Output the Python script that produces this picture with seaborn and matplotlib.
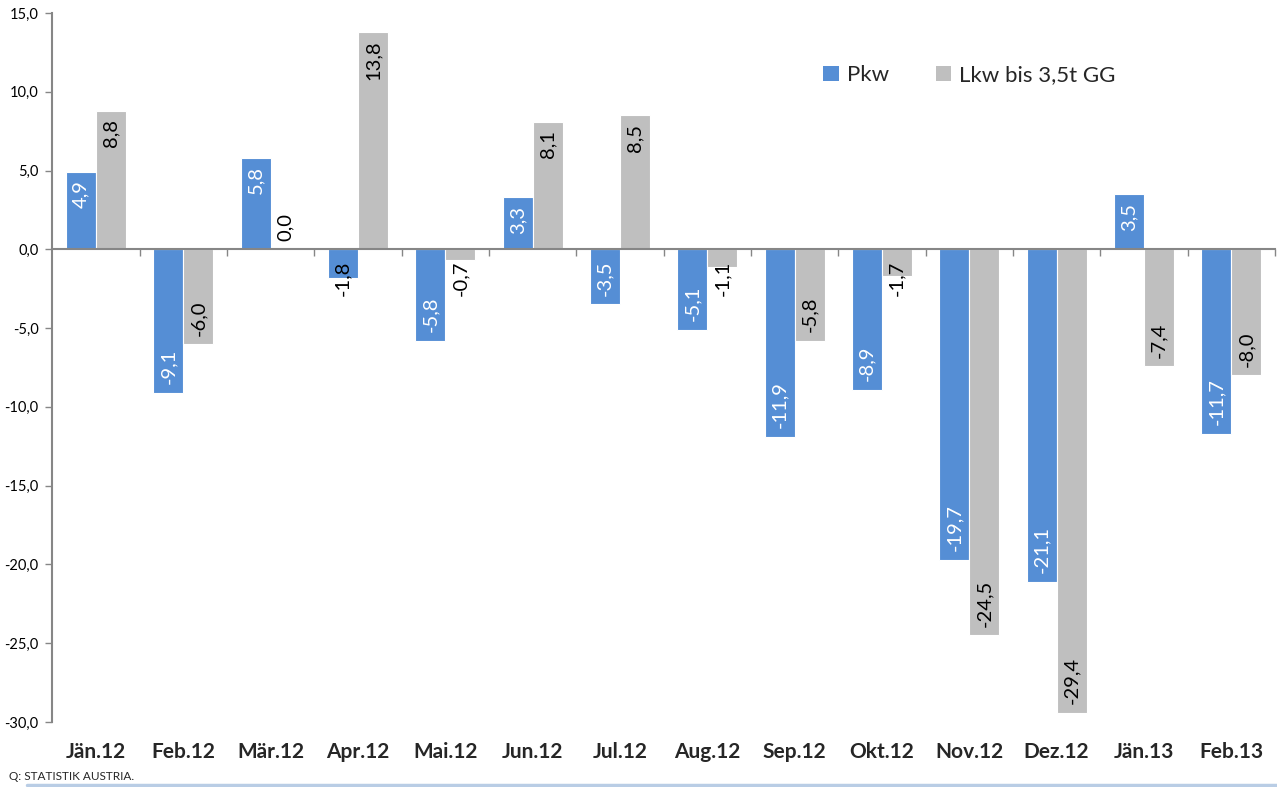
import matplotlib
matplotlib.use("Agg")
import matplotlib.pyplot as plt
import matplotlib.transforms as mtransforms
from matplotlib.patches import Patch
from matplotlib.lines import Line2D
import seaborn as sns
import pandas as pd

categories = ["Jän.12", "Feb.12", "Mär.12", "Apr.12", "Mai.12", "Jun.12", "Jul.12",
              "Aug.12", "Sep.12", "Okt.12", "Nov.12", "Dez.12", "Jän.13", "Feb.13"]
pkw = [4.9, -9.1, 5.8, -1.8, -5.8, 3.3, -3.5, -5.1, -11.9, -8.9, -19.7, -21.1, 3.5, -11.7]
lkw = [8.8, -6.0, 0.0, 13.8, -0.7, 8.1, 8.5, -1.1, -5.8, -1.7, -24.5, -29.4, -7.4, -8.0]
series_names = ["Pkw", "Lkw bis 3,5t GG"]
colors = ["#558ED5", "#BFBFBF"]
yticks = [-30, -25, -20, -15, -10, -5, 0, 5, 10, 15]

df = pd.DataFrame({
    "cat": categories * 2,
    "val": pkw + lkw,
    "series": [series_names[0]] * len(categories) + [series_names[1]] * len(categories),
})

sns.set_style("white")
plt.rcParams["font.family"] = ["Lato", "DejaVu Sans"]

fig = plt.figure(figsize=(12.77, 7.87), dpi=100)
ax = fig.add_axes([0.0410, 0.0826, 0.9574, 0.9009])

sns.barplot(data=df, x="cat", y="val", hue="series", order=categories,
            hue_order=series_names, palette=colors, width=0.69, saturation=1,
            edgecolor="white", linewidth=0.8, ax=ax, legend=False)

ax.set_ylim(-30, 15)
ax.set_xlim(-0.5, len(categories) - 0.5)
ax.set_yticks(yticks)
ax.set_yticklabels([f"{t:.1f}".replace(".", ",") for t in yticks], fontsize=10.5, color="#000000")
ax.set_xlabel("")
ax.set_ylabel("")

spine_col = "#868686"
for s in ["top", "right"]:
    ax.spines[s].set_visible(False)
ax.spines["left"].set_color(spine_col)
ax.spines["left"].set_linewidth(1.5)
ax.spines["bottom"].set_position(("data", 0))
ax.spines["bottom"].set_color(spine_col)
ax.spines["bottom"].set_linewidth(1.5)
ax.tick_params(axis="y", direction="out", length=5, width=1, color=spine_col, pad=5, left=True)
boundaries = [i + 0.5 for i in range(len(categories) - 1)] + [len(categories) - 0.5]
ax.set_xticks(boundaries)
ax.set_xticklabels([""] * len(boundaries))
ax.tick_params(axis="x", direction="out", length=5, width=1, color=spine_col, bottom=True)

trans = mtransforms.blended_transform_factory(ax.transData, ax.transAxes)
for i, c in enumerate(categories):
    ax.text(i, -0.042, c, transform=trans, ha="center", va="center",
            fontsize=15, fontweight="bold")

# data labels
fs = 14.5
for ci, cont in enumerate(ax.containers):
    for bar, v in zip(cont.patches, pkw if ci == 0 else lkw):
        x = bar.get_x() + bar.get_width() / 2
        txt = f"{v:.1f}".replace(".", ",")
        if abs(v) >= 2.5:
            col = "white" if ci == 0 else "black"
            if v > 0:
                ax.annotate(txt, (x, v), xytext=(0, -6), textcoords="offset points",
                            rotation=90, ha="center", va="top", fontsize=fs, color=col)
            else:
                ax.annotate(txt, (x, v), xytext=(0, 6), textcoords="offset points",
                            rotation=90, ha="center", va="bottom", fontsize=fs, color=col)
        else:
            if v >= 0:
                ax.annotate(txt, (x, 0), xytext=(0, 6), textcoords="offset points",
                            rotation=90, ha="center", va="bottom", fontsize=fs, color="black")
            else:
                ax.annotate(txt, (x, 0), xytext=(0, -8), textcoords="offset points",
                            rotation=90, ha="center", va="top", fontsize=fs, color="black")

handles = [Patch(facecolor=colors[0], edgecolor="none"), Patch(facecolor=colors[1], edgecolor="none")]
ax.legend(handles, series_names, loc="center", bbox_to_anchor=(0.75, 0.912), ncol=2,
          frameon=False, fontsize=16, handlelength=0.7, handleheight=0.7,
          handletextpad=0.35, columnspacing=2.1)

fig.text(9 / 1277, 1 - 777 / 787, "Q: STATISTIK AUSTRIA.", fontsize=8.5, ha="left", va="center")
fig.add_artist(Line2D([27 / 1277, 1.0], [1 - 785 / 787, 1 - 785 / 787], color="#B9CDE5",
                      linewidth=2.5, transform=fig.transFigure))

fig.savefig("out.png", dpi=100)
